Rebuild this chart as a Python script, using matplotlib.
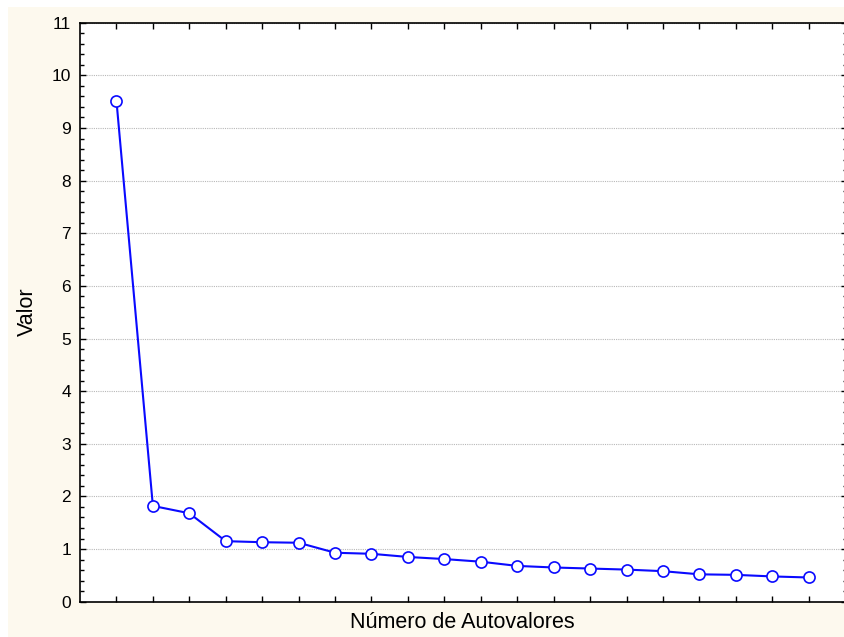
import matplotlib
matplotlib.use("Agg")
import matplotlib.pyplot as plt
from matplotlib.ticker import MultipleLocator, FixedLocator, NullFormatter
from matplotlib.patches import Rectangle

plt.rcParams['font.family'] = ['Liberation Sans', 'DejaVu Sans']

n_autovalores = list(range(1, 21))
valores = [9.52, 1.82, 1.68, 1.15, 1.13, 1.12, 0.93, 0.91, 0.85, 0.81,
           0.76, 0.68, 0.65, 0.63, 0.61, 0.58, 0.52, 0.51, 0.48, 0.46]
y_ticks = list(range(0, 12))

W, H = 844, 637
fig = plt.figure(figsize=(W / 100, H / 100), dpi=100, facecolor='white')
beige = '#fdf9ee'
fig.patches.append(Rectangle((8 / W, 0), 1, 1 - 7 / H, transform=fig.transFigure,
                             facecolor=beige, edgecolor='none', zorder=-10))

ax = fig.add_axes([80 / W, 1 - 601.7 / H, 767 / W, 579 / H])
ax.set_facecolor('white')

ax.plot(n_autovalores, valores, color='#0a0aff', linewidth=1.5,
        marker='o', markersize=8, markerfacecolor='white',
        markeredgecolor='#0a0aff', markeredgewidth=1.2, zorder=3)

ax.set_xlim(0, 21.05)
ax.set_ylim(0, 11)
ax.xaxis.set_major_locator(FixedLocator(n_autovalores))
ax.xaxis.set_major_formatter(NullFormatter())
ax.yaxis.set_major_locator(FixedLocator(y_ticks))
ax.yaxis.set_minor_locator(MultipleLocator(0.2))

ax.tick_params(axis='both', which='both', direction='in', color='black',
               top=True, right=True, bottom=True, left=True)
ax.tick_params(axis='both', which='major', length=4, width=1)
ax.tick_params(axis='y', which='minor', length=3, width=1)
ax.tick_params(axis='y', which='major', labelsize=12.5, pad=6.5)
ax.tick_params(axis='x', which='minor', bottom=False, top=False)

ax.grid(axis='y', which='major', linestyle=(0, (1, 1)), color='#b8b8b8', linewidth=0.8)
ax.set_axisbelow(True)

for s in ax.spines.values():
    s.set_linewidth(1.2)
    s.set_color('black')

fig.text(27 / W, 1 - 312 / H, 'Valor', rotation=90, ha='center', va='center', fontsize=15.5)
fig.text(462 / W, 1 - 623 / H, 'Número de Autovalores', ha='center', va='center', fontsize=15.5)

fig.savefig('out.png', dpi=100, facecolor='white')
